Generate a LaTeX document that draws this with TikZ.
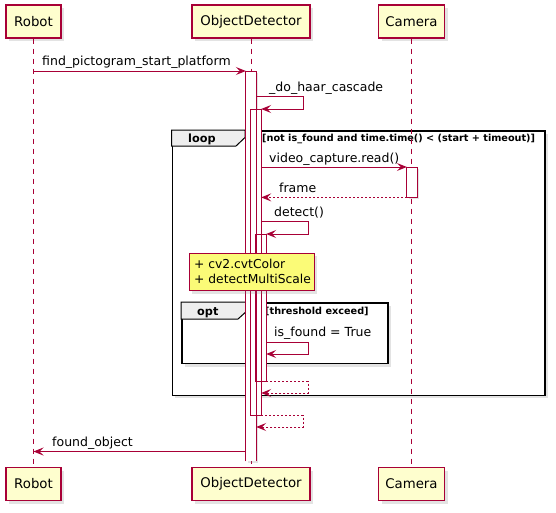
\documentclass[tikz,border=0pt]{standalone}
\usepackage{fontspec}
\setmainfont{DejaVu Sans}
\usetikzlibrary{arrows.meta,shadows}
\definecolor{pu}{HTML}{A80036}
\definecolor{pbox}{HTML}{FEFECE}
\definecolor{pnote}{HTML}{FBFB77}
\definecolor{ptab}{HTML}{EEEEEE}
\newcommand\fmsg{\fontsize{12.5}{15}\selectfont}
\newcommand\fpart{\fontsize{13.3}{16}\selectfont}
\newcommand\fbold{\fontsize{11.3}{13}\selectfont\bfseries}
\newcommand\fguard{\fontsize{9.7}{12}\selectfont\bfseries}
\newcommand\fnote{\fontsize{12.3}{15}\selectfont}
\tikzset{
  part/.style={draw=pu, line width=1.1pt, fill=pbox, minimum height=33pt, inner sep=0pt, font=\fpart,
    drop shadow={shadow xshift=3pt, shadow yshift=-3pt, opacity=0.22}},
  life/.style={draw=pu, line width=0.9pt, dash pattern=on 5pt off 5pt},
  barfill/.style={fill=white, minimum width=10pt, inner sep=0pt, anchor=north},
  barshadow/.style={drop shadow={shadow xshift=2pt, shadow yshift=-2pt, opacity=0.22}},
  barline/.style={draw=pu, line width=0.9pt},
  msg/.style={draw=pu, line width=0.9pt, -{Stealth[length=10pt,width=8pt,inset=4pt]}},
  ret/.style={msg, dash pattern=on 2pt off 2pt},
  lbl/.style={font=\fmsg, inner sep=0pt, anchor=base west},
  frm/.style={draw=black, line width=1.6pt, fill=white, inner sep=0pt, anchor=north west,
    drop shadow={shadow xshift=3pt, shadow yshift=-3pt, opacity=0.22}},
  tabshape/.style={draw=black, line width=1pt, fill=ptab},
  flbl/.style={font=\fbold, inner sep=0pt, anchor=base west},
  guard/.style={font=\fguard, inner sep=0pt, anchor=base west},
  notebox/.style={draw=pu, line width=0.9pt, fill=pnote, inner sep=0pt, anchor=north west,
    drop shadow={shadow xshift=3pt, shadow yshift=-3pt, opacity=0.22}},
  notetxt/.style={font=\fnote, inner sep=0pt, anchor=base west}
}
\begin{document}
\begin{tikzpicture}[x=1pt,y=-1pt]
\useasboundingbox[fill=white] (0,0) rectangle (556,512);

% participants
\node[part, minimum width=55pt] (robT) at (33.5,21.5) {Robot};
\node[part, minimum width=118pt] (odT) at (251,21.5) {ObjectDetector};
\node[part, minimum width=66pt] (camT) at (411.5,21.5) {Camera};
\node[part, minimum width=55pt] (robB) at (33.5,484) {Robot};
\node[part, minimum width=118pt] (odB) at (251,484) {ObjectDetector};
\node[part, minimum width=66pt] (camB) at (411.5,484) {Camera};

% frames
\node[frm, minimum width=372.5pt, minimum height=264.5pt] (loopf) at (171.5,130) {};
\draw[tabshape] (loopf.north west) -- ++(73.5,0) -- ++(0,7.5) -- ++(-9,8.5) -- ++(-64.5,0) -- cycle;
\node[flbl] (loopl) at (188,142.5) {loop};
\node[guard] (loopg) at (262,141.3) {[not is\_found and time.time() < (start + timeout)]};

\node[frm, minimum width=206pt, minimum height=60.7pt] (optf) at (181,302) {};
\draw[tabshape] (optf.north west) -- ++(67,0) -- ++(0,8) -- ++(-10,9) -- ++(-57,0) -- cycle;
\node[flbl] (optl) at (197,315.5) {opt};
\node[guard] (optg) at (265,314.8) {[threshold exceed]};

% lifelines
\draw[life] (robT.south) -- (robB.north);
\draw[life] (odT.south) -- (odB.north);
\draw[life] (camT.south) -- (camB.north);

% activation bars
\node[barfill, barshadow, minimum height=390pt] (b1) at (251,71) {};
\node[barfill, minimum height=306pt] (b2) at (256,109) {};
\node[barfill, minimum height=147pt] (b3) at (261,234) {};
\node[barfill, barshadow, minimum height=30pt] (bc) at (412,167) {};
\draw[barline] (b1.south west) -- (b1.north west) -- (b1.north east) -- (b1.south east);
\draw[barline] (b2.north west) rectangle (b2.south east);
\draw[barline] (b3.north west) rectangle (b3.south east);
\draw[barline] (bc.north west) rectangle (bc.south east);

% turning points
\coordinate (h1) at (303,96.7);
\coordinate (h2) at (308,221);
\coordinate (h3) at (308,342);
\coordinate (h3b) at (308,354);
\coordinate (h4) at (308,393);
\coordinate (h5) at (303,427);
\coordinate (h6) at (100,451.5);

% messages
\draw[msg] (robT.south |- b1.north west) -- (b1.north west);
\node[lbl] (t1) at (42,65.8) {find\_pictogram\_start\_platform};

\draw[msg] (b1.east |- h1) -- (h1) -- (h1 |- b2.north) -- (b2.north east);
\node[lbl] (t2) at (269,91.5) {\_do\_haar\_cascade};

\draw[msg] (b2.east |- bc.north) -- (bc.north west);
\node[lbl] (t3) at (269,162.7) {video\_capture.read()};

\draw[ret] (bc.south west) -- (b2.east |- bc.south);
\node[lbl] (t4) at (279,192) {frame};

\draw[msg] (b2.east |- h2) -- (h2) -- (h2 |- b3.north) -- (b3.north east);
\node[lbl] (t5) at (274,216.5) {detect()};

\draw[msg] (b3.east |- h3) -- (h3) -- (h3b) -- (b3.east |- h3b);
\node[lbl] (t6) at (274,336.8) {is\_found = True};

\draw[ret] (b3.south east) -- (h4 |- b3.south) -- (h4) -- (b2.east |- h4);
\draw[ret] (b2.south east) -- (h5 |- b2.south) -- (h5) -- (b1.east |- h5);

\draw[msg] (b1.west |- h6) -- (robT.south |- h6);
\node[lbl] (t7) at (52,446.7) {found\_object};

% note
\node[notebox, minimum width=125pt, minimum height=37.3pt] (nt) at (189,253) {};
\node[notetxt] (n1) at (194,268.3) {+ cv2.cvtColor};
\node[notetxt] (n2) at (194,283.3) {+ detectMultiScale};
\end{tikzpicture}
\end{document}
